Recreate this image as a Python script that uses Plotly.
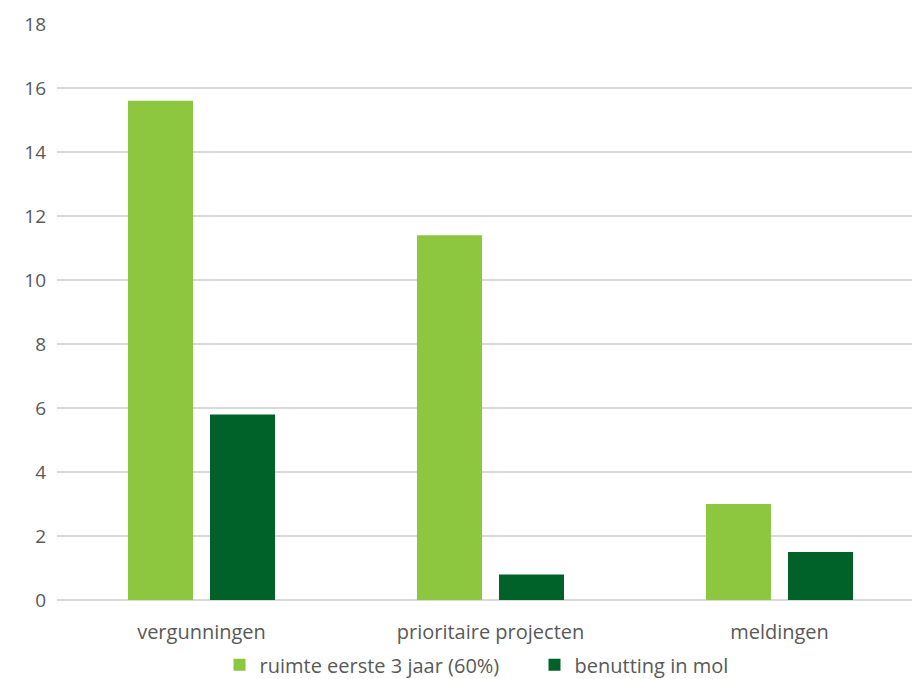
import plotly.graph_objects as go

categories = ["vergunningen", "prioritaire projecten", "meldingen"]
ruimte = [15.6, 11.4, 3.0]
benutting = [5.8, 0.8, 1.5]
series_names = ["ruimte eerste 3 jaar (60%)", "benutting in mol"]
y_ticks = [0, 2, 4, 6, 8, 10, 12, 14, 16, 18]

font_family = "Open Sans, Noto Sans, sans-serif"
text_color = "#595959"

fig = go.Figure()
fig.add_trace(go.Bar(x=categories, y=ruimte, name=series_names[0],
                     marker=dict(color="#8DC63F", line=dict(width=0))))
fig.add_trace(go.Bar(x=categories, y=benutting, name=series_names[1],
                     marker=dict(color="#006129", line=dict(width=0))))

fig.update_layout(
    width=912, height=679,
    margin=dict(l=57, r=0, t=24, b=79),
    paper_bgcolor="white", plot_bgcolor="white",
    barmode="group", bargap=0.4325, bargroupgap=0.207,
    font=dict(family=font_family, size=20, color=text_color),
    legend=dict(orientation="h", x=0.5585, xanchor="center",
                yref="container", y=0.021, yanchor="middle",
                bgcolor="rgba(0,0,0,0)",
                font=dict(size=20, color=text_color), itemwidth=30,
                entrywidth=270, entrywidthmode="pixels",
                traceorder="normal"),
    xaxis=dict(showgrid=False, showline=False, ticks="", automargin=False,
               range=[-0.5, 2.4585],
               ticklabelstandoff=18,
               tickfont=dict(size=20, color=text_color)),
    yaxis=dict(range=[0, 18], tickvals=y_ticks, showgrid=True, automargin=False,
               gridcolor="#D9D9D9", gridwidth=1.5, zeroline=True,
               zerolinecolor="#D9D9D9", zerolinewidth=1.5, showline=False,
               ticks="", ticklabelstandoff=10,
               tickfont=dict(size=19, color=text_color)),
)

fig.write_html("out.html", config={"displayModeBar": False})

with open("out.html", "r", encoding="utf-8") as f:
    html = f.read()
html = html.replace("<head>", "<head><style>html,body{margin:0;padding:0;overflow:hidden;}</style>", 1)
with open("out.html", "w", encoding="utf-8") as f:
    f.write(html)
